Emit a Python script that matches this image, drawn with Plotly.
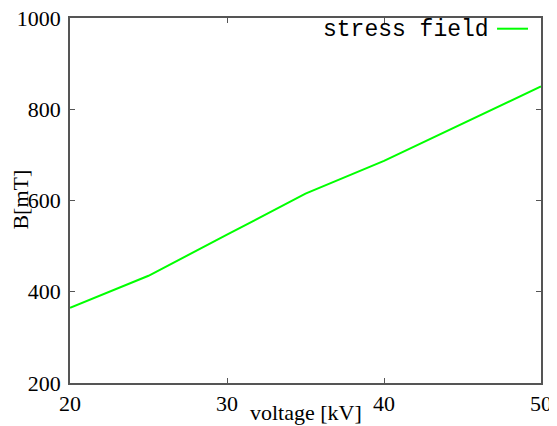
import plotly.graph_objects as go

voltage = [20, 25, 30, 35, 40, 45, 50]
b_field = [365, 435, 525, 615, 687, 768, 850]
series_name = "stress field"
x_title = "voltage [kV]"
y_title = "B[mT]"

# the page places the figure 8px in from the top-left corner (default body margin)
OFF = 8
W, H = 557 - OFF, 426 - OFF
# plot area in page pixels: left 69.5, top 18, right 541, bottom 383
ml, mt = 69.5 - OFF, 18 - OFF
mr = W - (541 - OFF)
mb = H - (383 - OFF)
pw, ph = W - ml - mr, H - mt - mb

def px_to_paper_x(px):
    return (px - OFF - ml) / pw

def px_to_paper_y(py):
    return (H - mb - (py - OFF)) / ph

fig = go.Figure()
fig.add_trace(go.Scatter(x=voltage, y=b_field, mode="lines", name=series_name,
                         line=dict(color="#00ff00", width=2), showlegend=False))

axis_common = dict(showgrid=False, zeroline=False, showline=True, linecolor="#555555",
                   linewidth=1.5, mirror="allticks", ticks="inside", ticklen=5,
                   tickcolor="#555555", tickwidth=1, automargin=False,
                   ticklabeloverflow="allow",
                   tickfont=dict(family="Liberation Serif", size=22, color="black"))

fig.update_xaxes(range=[20, 50], tick0=20, dtick=10, ticklabelstandoff=0, **axis_common)
fig.update_yaxes(range=[200, 1000], tick0=200, dtick=200, ticklabelstandoff=3, **axis_common)

fig.add_annotation(text=x_title, xref="paper", yref="paper", x=0.5, y=px_to_paper_y(413),
                   xanchor="center", yanchor="middle", showarrow=False,
                   font=dict(family="Liberation Serif", size=22, color="black"))
fig.add_annotation(text=y_title, xref="paper", yref="paper", x=px_to_paper_x(20), y=px_to_paper_y(200),
                   xanchor="center", yanchor="middle", showarrow=False, textangle=-90,
                   font=dict(family="Liberation Serif", size=22, color="black"))

# legend (text on left, sample line on right as in reference)
fig.add_annotation(text=series_name, xref="paper", yref="paper", x=px_to_paper_x(491), y=px_to_paper_y(30),
                   xanchor="right", yanchor="middle", showarrow=False,
                   font=dict(family="Liberation Mono", size=23, color="black"))
fig.add_shape(type="line", xref="paper", yref="paper",
              x0=px_to_paper_x(497), x1=px_to_paper_x(528),
              y0=px_to_paper_y(28.7), y1=px_to_paper_y(28.7),
              line=dict(color="#00ff00", width=2))

fig.update_layout(width=W, height=H, margin=dict(l=ml, r=mr, t=mt, b=mb, autoexpand=False),
                  plot_bgcolor="white", paper_bgcolor="white")

fig.write_html("out.html")
